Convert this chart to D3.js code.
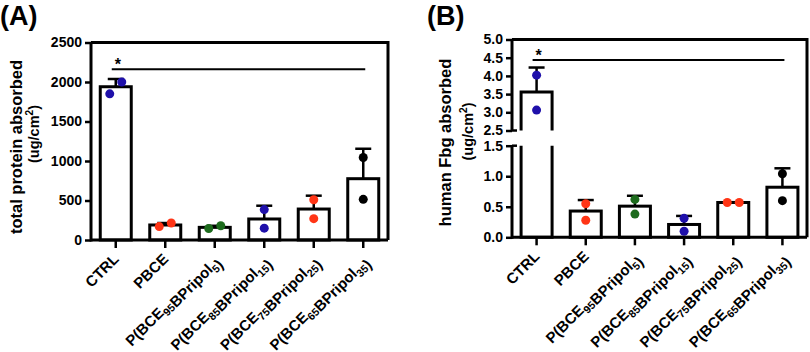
<!DOCTYPE html>
<html>
<head>
<meta charset="utf-8">
<script src="https://cdn.jsdelivr.net/npm/d3@7"></script>
<style>
  body { margin: 0; background: #fff; }
  svg { display: block; font-family: Arial, "Liberation Sans", Helvetica, sans-serif; font-weight: bold; }
</style>
</head>
<body>
<div id="chart"></div>
<script>
// groups and their x labels (_{..} = subscript)
const groups = ["CTRL", "PBCE", "P95", "P85", "P75", "P65"];
const groupLabels = [
  "CTRL",
  "PBCE",
  "P(BCE_{95}BPripol_{5})",
  "P(BCE_{85}BPripol_{15})",
  "P(BCE_{75}BPripol_{25})",
  "P(BCE_{65}BPripol_{35})",
];
const dotColors = ["#1f10aa", "#ff3516", "#1d6b1d", "#1f10aa", "#ff3516", "#000000"];

// (A) total protein absorbed
const proteinMean = [1940, 190, 160, 266, 392, 776];
const proteinSD = [98, 25, 20, 168, 169, 379];
const proteinPoints = [[1850, 2000], [170, 215], [145, 180], [385, 150], [510, 270], [1045, 515]];
const proteinTicks = [0, 500, 1000, 1500, 2000, 2500];
const proteinSig = 2160;

// (B) human Fbg absorbed (broken axis)
const fbgMean = [3.56, 0.43, 0.51, 0.21, 0.57, 0.82];
const fbgSD = [0.67, 0.18, 0.17, 0.14, 0.005, 0.31];
const fbgPoints = [[4.02, 3.06], [0.55, 0.28], [0.62, 0.38], [0.31, 0.10], [0.57, 0.57], [1.04, 0.60]];
const fbgTicksLow = [0, 0.5, 1.0, 1.5];
const fbgTicksHigh = [2.5, 3.0, 3.5, 4.0, 4.5, 5.0];
const fbgSig = 4.44;

const W = 810, H = 352;
const svg = d3.select("#chart").append("svg").attr("width", W).attr("height", H);

function addLabel(sel, str, size) {
  const parts = str.split(/(_\{[^}]*\})/).filter((s) => s.length);
  parts.forEach((p) => {
    if (p.startsWith("_{")) {
      sel.append("tspan").attr("font-size", size * 0.72).attr("dy", 4).text(p.slice(2, -1));
      sel.append("tspan").attr("dy", -4).text("");
    } else {
      sel.append("tspan").attr("font-size", size).text(p);
    }
  });
}

function drawPanel(p) {
  const g = svg.append("g");
  const { left, right, top, bottom } = p;

  const x = d3.scaleBand().domain(groups).range([left, right]);
  const cx = (d) => x(d) + x.bandwidth() / 2;
  const y = p.y;

  // frame top + right
  g.append("path")
    .attr("d", `M${left},${top}H${right}V${bottom}`)
    .attr("fill", "none").attr("stroke", "#000").attr("stroke-width", 3);

  const barW = 31;
  // bars
  groups.forEach((grp, i) => {
    const m = p.mean[i];
    const x0 = cx(grp) - barW / 2, x1 = cx(grp) + barW / 2;
    // error bar (upward)
    const yTop = y(m + p.sd[i]);
    g.append("line").attr("x1", cx(grp)).attr("x2", cx(grp))
      .attr("y1", y(m)).attr("y2", yTop).attr("stroke", "#000").attr("stroke-width", 2.5);
    g.append("line").attr("x1", cx(grp) - 8).attr("x2", cx(grp) + 8)
      .attr("y1", yTop).attr("y2", yTop).attr("stroke", "#000").attr("stroke-width", 2.5);

    if (p.breakLow != null && m > p.breakHigh) {
      const yl = y(p.breakLow), yh = y(p.breakHigh);
      g.append("rect").attr("x", x0).attr("y", yl).attr("width", barW).attr("height", y(0) - yl).attr("fill", "#fff");
      g.append("rect").attr("x", x0).attr("y", y(m)).attr("width", barW).attr("height", yh - y(m)).attr("fill", "#fff");
      g.append("path")
        .attr("d", `M${x0},${yl}V${y(0)}H${x1}V${yl}M${x0},${yh}V${y(m)}H${x1}V${yh}`)
        .attr("fill", "none").attr("stroke", "#000").attr("stroke-width", 3);
    } else {
      g.append("rect").attr("x", x0).attr("y", y(m)).attr("width", barW).attr("height", y(0) - y(m))
        .attr("fill", "#fff").attr("stroke", "#000").attr("stroke-width", 3);
    }
  });

  // dots: spread side by side when they would overlap
  groups.forEach((grp, i) => {
    const pts = p.points[i];
    const close = Math.abs(y(pts[0]) - y(pts[1])) < 12.5;
    const order = pts.map((v, k) => ({ v, k })).sort((a, b) => a.v - b.v);
    order.forEach((o, j) => {
      const dx = close ? (j === 0 ? -6 : 6) : 0;
      g.append("circle").attr("cx", cx(grp) + dx).attr("cy", y(o.v)).attr("r", 4.5).attr("fill", dotColors[i]);
    });
  });

  // x axis
  g.append("line").attr("x1", left).attr("x2", right).attr("y1", bottom).attr("y2", bottom)
    .attr("stroke", "#000").attr("stroke-width", 3);
  groups.forEach((grp, i) => {
    g.append("line").attr("x1", cx(grp)).attr("x2", cx(grp)).attr("y1", bottom).attr("y2", bottom + 8)
      .attr("stroke", "#000").attr("stroke-width", 2.5);
    const t = g.append("text")
      .attr("transform", `translate(${cx(grp) + 4},${bottom + 20}) rotate(-45)`)
      .attr("text-anchor", "end");
    addLabel(t, groupLabels[i], 15);
  });

  // y axis segments
  p.segments.forEach((s) => {
    const ax = g.append("g").attr("transform", `translate(${left},0)`)
      .call(d3.axisLeft(y).tickValues(s.ticks).tickSize(6).tickSizeOuter(0).tickPadding(3).tickFormat(p.fmt));
    ax.select(".domain").remove();
    ax.selectAll(".tick line").attr("stroke-width", 2.5);
    ax.selectAll(".tick text").attr("font-size", 14).attr("font-family", null).attr("fill", "#000");
    g.append("line").attr("x1", left).attr("x2", left)
      .attr("y1", y(s.ticks[0]) + (s.ticks[0] === 0 ? 1.5 : 0)).attr("y2", y(s.ticks[s.ticks.length - 1]))
      .attr("stroke", "#000").attr("stroke-width", 3);
  });
  if (p.breakLow != null) {
    [p.breakLow, p.breakHigh].forEach((v) => {
      g.append("line").attr("x1", left).attr("x2", left + 5).attr("y1", y(v)).attr("y2", y(v))
        .attr("stroke", "#000").attr("stroke-width", 2.5);
    });
  }

  // significance
  const ys = y(p.sig);
  g.append("line").attr("x1", cx(groups[0]) - 4).attr("x2", cx(groups[5]) + 2)
    .attr("y1", ys).attr("y2", ys).attr("stroke", "#000").attr("stroke-width", 2);
  g.append("text").attr("x", cx(groups[0]) + 2).attr("y", ys + 1).attr("text-anchor", "middle")
    .attr("font-size", 16).text("*");

  // y label
  p.ylabel.forEach((l) => {
    const t = g.append("text").attr("transform", `translate(${l.x},${l.y}) rotate(-90)`)
      .attr("text-anchor", "middle").attr("font-size", l.size);
    if (l.sup) {
      t.append("tspan").text(l.text);
      t.append("tspan").attr("font-size", l.size * 0.7).attr("dy", -6).text(l.sup);
      t.append("tspan").attr("dy", 6).text(")");
    } else {
      t.text(l.text);
    }
  });

  // panel letter
  g.append("text").attr("x", p.letterX).attr("y", 25).attr("font-size", 27).text(p.letter);
}

// panel A scale
const yA = d3.scaleLinear().domain([0, 2500]).range([240, 42.5]);
drawPanel({
  left: 91, right: 388, top: 42.5, bottom: 240,
  y: yA, mean: proteinMean, sd: proteinSD, points: proteinPoints,
  segments: [{ ticks: proteinTicks }], fmt: d3.format("d"), sig: proteinSig,
  ylabel: [
    { x: 22, y: 147, size: 16.5, text: "total protein absorbed" },
    { x: 39, y: 134, size: 14.5, text: "(ug/cm", sup: "2" },
  ],
  letter: "(A)", letterX: 0,
});

// panel B: piecewise scale for the broken axis
const yLow = d3.scaleLinear().domain([0, 1.5]).range([237.3, 145.7]);
const yHigh = d3.scaleLinear().domain([2.5, 5]).range([130.5, 39.5]);
const yB = (v) => (v <= 1.5 ? yLow(v) : yHigh(v));
yB.copy = () => yB;
yB.domain = () => [0, 5];
yB.range = () => [237.3, 39.5];
yB.ticks = () => [];
yB.tickFormat = () => d3.format(".1f");
drawPanel({
  left: 512, right: 807, top: 39.5, bottom: 237.3,
  y: yB, mean: fbgMean, sd: fbgSD, points: fbgPoints,
  segments: [{ ticks: fbgTicksLow }, { ticks: fbgTicksHigh }], fmt: d3.format(".1f"), sig: fbgSig,
  breakLow: 1.5, breakHigh: 2.5,
  ylabel: [
    { x: 451, y: 142.5, size: 16.5, text: "human Fbg absorbed" },
    { x: 473, y: 131.5, size: 14.5, text: "(ug/cm", sup: "2" },
  ],
  letter: "(B)", letterX: 427,
});
</script>
</body>
</html>
